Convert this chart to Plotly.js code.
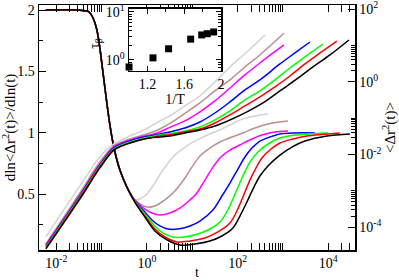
<!DOCTYPE html>
<html><head><meta charset="utf-8">
<script src="https://cdn.plot.ly/plotly-3.0.1.min.js"></script>
<style>body{margin:0;padding:0;background:#fff}#c{width:399px;height:280px}</style>
</head><body><div id="c"></div>
<script>
// ---- d ln<dr2>/d ln t (left axis): common short-time descent, then one tail per temperature ----
const tDesc = [0.0059, 0.0301, 0.0499, 0.0582, 0.0678, 0.0789, 0.0918, 0.107, 0.125, 0.145, 0.169, 0.197, 0.254, 0.362];
const vDesc = [2.0, 2.0, 1.99, 1.967, 1.918, 1.837, 1.690, 1.495, 1.299, 1.120, 0.965, 0.843, 0.696, 0.557];

const tDerLG = [0.543, 0.701, 0.950, 1.356, 2.254, 4.148, 7.63, 12.68, 24.5, 40.8, 67.8, 112.6, 241.3, 467];
const vDerLG = [0.456, 0.460, 0.492, 0.566, 0.696, 0.818, 0.892, 0.941, 0.990, 1.022, 1.063, 1.104, 1.136, 1.152];
const tDerRB = [0.543, 0.776, 1.0, 1.501, 2.495, 4.148, 6.89, 9.83, 14.77, 24.5, 40.8, 75.0, 131.2, 241.3, 467, 1290];
const vDerRB = [0.452, 0.411, 0.394, 0.403, 0.452, 0.525, 0.631, 0.720, 0.810, 0.875, 0.924, 0.965, 0.998, 1.038, 1.071, 1.095];
const tDerM = [0.543, 0.903, 1.289, 1.935, 3.217, 5.35, 8.89, 12.68, 19.03, 28.6, 42.9, 67.8, 112.6, 187.2, 344.3, 666.4, 1290];
const vDerM = [0.452, 0.378, 0.346, 0.329, 0.346, 0.386, 0.452, 0.509, 0.614, 0.720, 0.802, 0.859, 0.900, 0.941, 0.981, 1.006, 1.014];
const tDerB = [0.543, 0.903, 1.289, 1.935, 2.906, 4.83, 8.89, 14.77, 28.6, 45.1, 67.8, 101.7, 145.2, 207.2, 311.1, 516.9, 859, 1841, 5083];
const vDerB = [0.443, 0.354, 0.289, 0.240, 0.215, 0.215, 0.240, 0.280, 0.370, 0.484, 0.590, 0.704, 0.802, 0.875, 0.932, 0.965, 0.990, 0.998, 0.998];
const tDerG = [0.543, 0.903, 1.501, 2.254, 3.747, 6.89, 13.34, 24.5, 40.8, 61.2, 91.9, 131.2, 187.2, 281.0, 467, 859, 1841, 3944, 9840];
const vDerG = [0.443, 0.337, 0.240, 0.183, 0.150, 0.150, 0.174, 0.215, 0.272, 0.370, 0.517, 0.647, 0.761, 0.843, 0.908, 0.957, 0.981, 0.990, 0.998];
const tDerR = [0.543, 0.903, 1.501, 2.495, 4.590, 8.89, 19.03, 36.8, 67.8, 96.7, 131.2, 187.2, 253.9, 344.3, 516.9, 859, 1663, 3385, 18100];
const vDerR = [0.435, 0.321, 0.215, 0.150, 0.109, 0.117, 0.142, 0.191, 0.264, 0.362, 0.476, 0.614, 0.712, 0.794, 0.859, 0.916, 0.949, 0.973, 0.998];
const tDerK = [0.543, 0.903, 1.501, 2.762, 5.35, 11.46, 24.5, 45.1, 78.9, 112.6, 160.7, 229.3, 311.1, 467, 859, 1580, 3058, 9350, 30080];
const vDerK = [0.435, 0.313, 0.199, 0.126, 0.085, 0.093, 0.117, 0.158, 0.223, 0.321, 0.435, 0.557, 0.647, 0.729, 0.818, 0.883, 0.932, 0.973, 0.990];

// ---- <dr2(t)> (right axis) ----
const tMsdLG = [0.00592, 0.0333, 0.0918, 0.187, 0.281, 0.422, 0.701, 1.165, 1.935, 3.217, 6.89, 14.77, 31.6, 67.8, 169.1, 401];
const msdLG  = [5.42e-5, 1.37e-3, 8.59e-3, 0.0196, 0.0252, 0.0325, 0.0419, 0.0574, 0.0840, 0.115, 0.217, 0.409, 0.993, 2.57, 7.08, 19.5];
const tMsdRB = [0.00592, 0.0333, 0.0918, 0.187, 0.281, 0.422, 0.701, 1.165, 1.935, 3.217, 6.89, 14.77, 31.6, 67.8, 145.2, 311.1, 1052];
const msdRB  = [3.47e-5, 8.79e-4, 6.26e-3, 0.0173, 0.0222, 0.0269, 0.0325, 0.0393, 0.0506, 0.0720, 0.136, 0.263, 0.562, 1.13, 2.57, 5.50, 21.7];
const tMsdM = [0.00592, 0.0333, 0.0918, 0.187, 0.281, 0.422, 0.701, 1.165, 1.935, 3.217, 6.89, 14.77, 31.6, 67.8, 145.2, 311.1, 1052];
const msdM  = [3.26e-5, 7.74e-4, 5.51e-3, 0.0162, 0.0208, 0.0252, 0.0305, 0.0346, 0.0419, 0.0560, 0.0840, 0.149, 0.298, 0.679, 1.55, 3.31, 10.4];
const tMsdB = [0.00592, 0.0333, 0.0918, 0.187, 0.281, 0.422, 0.701, 1.165, 1.935, 3.217, 6.89, 14.77, 31.6, 67.8, 145.2, 311.1, 859, 1841, 3944];
const msdB  = [3.06e-5, 7.26e-4, 5.18e-3, 0.0152, 0.0196, 0.0237, 0.0286, 0.0325, 0.0369, 0.0419, 0.0539, 0.0788, 0.139, 0.280, 0.598, 1.13, 3.11, 6.24, 12.5];
const tMsdG = [0.00592, 0.0333, 0.0918, 0.187, 0.281, 0.422, 0.701, 1.165, 1.935, 3.217, 6.89, 14.77, 31.6, 67.8, 145.2, 311.1, 666.4, 1429, 3058, 7638];
const msdG  = [2.87e-5, 6.82e-4, 4.86e-3, 0.0143, 0.0184, 0.0222, 0.0269, 0.0305, 0.0346, 0.0375, 0.0446, 0.0574, 0.0895, 0.158, 0.318, 0.562, 1.13, 2.41, 4.84, 11.0];
const tMsdR = [0.00592, 0.0333, 0.0918, 0.187, 0.281, 0.422, 0.701, 1.165, 1.935, 3.217, 6.89, 14.77, 31.6, 67.8, 145.2, 311.1, 666.4, 1429, 3058, 6554, 15540];
const msdR  = [2.70e-5, 6.40e-4, 4.56e-3, 0.0134, 0.0173, 0.0208, 0.0252, 0.0286, 0.0325, 0.0350, 0.0419, 0.0506, 0.0740, 0.123, 0.217, 0.385, 0.724, 1.45, 3.11, 6.24, 13.3];
const tMsdK = [0.00592, 0.0333, 0.0918, 0.187, 0.281, 0.422, 0.701, 1.165, 1.935, 3.217, 6.89, 14.77, 31.6, 67.8, 160.7, 362, 859, 2037, 4592, 10890, 28580];
const msdK  = [2.53e-5, 6.01e-4, 4.28e-3, 0.0134, 0.0173, 0.0208, 0.0252, 0.0286, 0.0305, 0.0325, 0.0393, 0.0475, 0.0612, 0.0895, 0.149, 0.263, 0.562, 1.20, 2.57, 5.50, 14.2];

// ---- inset: tau_beta vs 1/T ----
const invT = [1.0, 1.26, 1.43, 1.67, 1.79, 1.85, 1.92];
const tauBeta = [0.71, 1.1, 1.7, 2.7, 3.3, 3.5, 3.8];

// ---- ticks ----
const xTickVals = [0.01, 1, 100, 10000];
const xTickText = ['10<sup>-2</sup>', '10<sup>0</sup>', '10<sup>2</sup>', '10<sup>4</sup>'];
const xMinorVals = [0.02,0.03,0.04,0.05,0.06,0.07,0.08,0.09,0.1, 2,3,4,5,6,7,8,9,10, 200,300,400,500,600,700,800,900,1000, 20000,30000];
const yTickVals = [0.5, 1, 1.5, 2];
const yTickText = ['0.5', '1', '1.5', '2'];
const yMinorVals = [0.25, 0.75, 1.25, 1.75];
const y2TickVals = [1e-4, 1e-2, 1, 100];
const y2TickText = ['10<sup>-4</sup>', '10<sup>-2</sup>', '10<sup>0</sup>', '10<sup>2</sup>'];
const y2MinorVals = [2e-4,3e-4,4e-4,5e-4,6e-4,7e-4,8e-4,9e-4,1e-3, 0.02,0.03,0.04,0.05,0.06,0.07,0.08,0.09,0.1, 2,3,4,5,6,7,8,9,10];
const insetYTickVals = [1, 10];
const insetYTickText = ['10<sup>0</sup>', '10<sup>1</sup>'];
const insetYMinor = [0.6,0.7,0.8,0.9,2,3,4,5,6,7,8,9];
const insetXTickVals = [1.2, 1.6, 2.0];
const insetXTickText = ['1.2', '1.6', '2'];
const insetXMinor = [1.0, 1.4, 1.8];

const colors = {LG:'#d3d3d3', RB:'#bc8f8f', M:'#ff00ff', B:'#0000ff', G:'#00ff00', R:'#ff0000', K:'#000000'};
const derT = {LG:tDerLG, RB:tDerRB, M:tDerM, B:tDerB, G:tDerG, R:tDerR, K:tDerK};
const derV = {LG:vDerLG, RB:vDerRB, M:vDerM, B:vDerB, G:vDerG, R:vDerR, K:vDerK};
const msT = {LG:tMsdLG, RB:tMsdRB, M:tMsdM, B:tMsdB, G:tMsdG, R:tMsdR, K:tMsdK};
const msV = {LG:msdLG, RB:msdRB, M:msdM, B:msdB, G:msdG, R:msdR, K:msdK};
const order = ['LG','RB','M','B','G','R','K'];

const traces = [];
order.forEach(k => {
  traces.push({x: msT[k], y: msV[k], xaxis:'x', yaxis:'y2', mode:'lines', type:'scatter',
    line:{color:colors[k], width:1.5, shape:'spline', smoothing:1}, hoverinfo:'skip'});
});
order.forEach(k => {
  traces.push({x: tDesc.concat(derT[k]), y: vDesc.concat(derV[k]), xaxis:'x', yaxis:'y', mode:'lines', type:'scatter',
    line:{color:colors[k], width:1.5, shape:'spline', smoothing:0.9}, hoverinfo:'skip'});
});
traces.push({x: invT, y: tauBeta, xaxis:'x2', yaxis:'y3', mode:'markers', type:'scatter',
  marker:{symbol:'square', size:7, color:'#000'}, cliponaxis:false});

const F = '"Liberation Serif", "Times New Roman", Times, serif';
const axBase = {showline:true, linecolor:'#000', linewidth:1.5, ticks:'inside', tickcolor:'#000', showgrid:false, zeroline:false,
  ticklabeloverflow:'allow', tickfont:{family:F, size:14, color:'#000'}};

const layout = {
  width:399, height:280, margin:{l:39, r:44, t:5, b:30}, showlegend:false,
  paper_bgcolor:'#fff', plot_bgcolor:'#fff', font:{family:F, color:'#000'},
  xaxis: Object.assign({}, axBase, {type:'log', range:[-2.38, 4.59], tickmode:'array', tickvals:xTickVals, ticktext:xTickText,
    ticklen:7, mirror:'allticks',
    minor:{tickmode:'array', tickvals:xMinorVals, ticklen:4, ticks:'inside', tickcolor:'#000'},
    title:{text:'t', font:{family:F, size:14, color:'#000'}, standoff:0}}),
  yaxis: Object.assign({}, axBase, {range:[0.044, 2.041], tickmode:'array', tickvals:yTickVals, ticktext:yTickText,
    ticklen:7, minor:{tickmode:'array', tickvals:yMinorVals, ticklen:4, ticks:'inside', tickcolor:'#000'},
    title:{text:'dln&lt;Δr<sup>2</sup>(t)&gt;/dln(t)', font:{family:F, size:15, color:'#000'}, standoff:4}}),
  yaxis2: Object.assign({}, axBase, {type:'log', overlaying:'y', side:'right', anchor:'x', range:[-4.627, 2.115],
    tickmode:'array', tickvals:y2TickVals, ticktext:y2TickText, ticklen:7,
    minor:{tickmode:'array', tickvals:y2MinorVals, ticklen:4, ticks:'inside', tickcolor:'#000'},
    title:{text:'&lt;Δr<sup>2</sup>(t)&gt;', font:{family:F, size:15, color:'#000'}, standoff:4}}),
  xaxis2: Object.assign({}, axBase, {domain:[0.285, 0.576], anchor:'y3', range:[1.0, 2.0], tickmode:'array',
    tickvals:insetXTickVals, ticktext:insetXTickText, ticklen:5, mirror:'allticks',
    minor:{tickmode:'array', tickvals:insetXMinor, ticklen:3, ticks:'inside', tickcolor:'#000'},
    title:{text:'1/T', font:{family:F, size:14, color:'#000'}, standoff:0}}),
  yaxis3: Object.assign({}, axBase, {domain:[0.731, 0.984], anchor:'x2', type:'log', range:[-0.23, 1.06], tickmode:'array',
    tickvals:insetYTickVals, ticktext:insetYTickText, ticklen:5, mirror:'allticks',
    minor:{tickmode:'array', tickvals:insetYMinor, ticklen:3, ticks:'inside', tickcolor:'#000'}}),
  annotations: [{text:'τ<sub>β</sub>', xref:'paper', yref:'paper', x:0.180, y:0.845, showarrow:false, textangle:-90,
    font:{family:F, size:14, color:'#000'}, xanchor:'center', yanchor:'middle'}]
};
Plotly.newPlot('c', traces, layout, {staticPlot:true, displayModeBar:false});
</script></body></html>
